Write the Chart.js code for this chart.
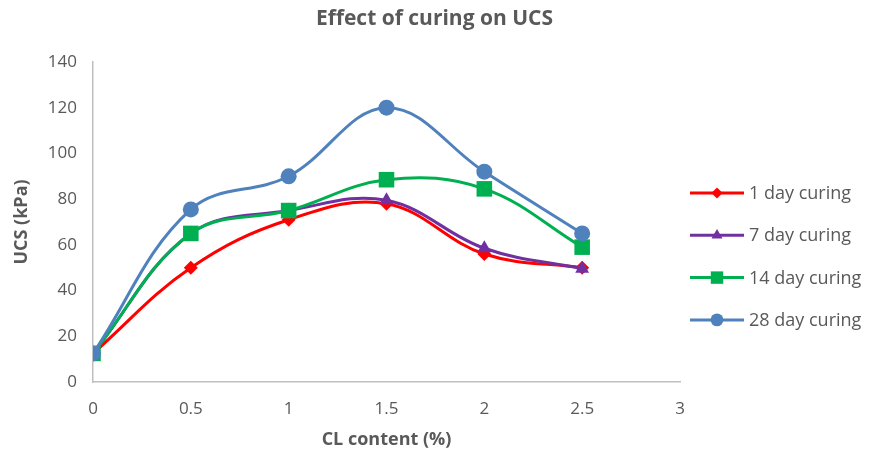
<!DOCTYPE html>
<html>
<head>
<meta charset="utf-8">
<script src="https://cdn.jsdelivr.net/npm/chart.js@4/dist/chart.umd.min.js"></script>
<style>
  html, body { margin: 0; padding: 0; background: #ffffff; }
  #wrap { width: 869px; height: 456px; }
</style>
</head>
<body>
<div id="wrap"><canvas id="chart" width="869" height="456"></canvas></div>
<script>
// CL content (%) on the x axis
const clContent = [0, 0.5, 1, 1.5, 2, 2.5];

// UCS (kPa) for each curing period
const day1Ucs  = [12.5, 50, 71, 78, 56, 50];
const day7Ucs  = [12.5, 65, 75, 79.5, 58.5, 49.5];
const day14Ucs = [12.5, 65, 75, 88.5, 84.5, 59];
const day28Ucs = [12.5, 75.5, 90, 120, 92, 65];

const seriesNames = ['1 day curing', '7 day curing', '14 day curing', '28 day curing'];
const xTicks = [0, 0.5, 1, 1.5, 2, 2.5, 3];
const yTicks = [0, 20, 40, 60, 80, 100, 120, 140];
const chartTitle = 'Effect of curing on UCS';

const textColor = '#595959';
const fontFamily = '"Open Sans", Lato, "Liberation Sans", sans-serif';

function toPoints(values) {
  return clContent.map((x, i) => ({ x: x, y: values[i] }));
}

const styles = [
  { color: '#FF0000', pointStyle: 'rectRot', radius: 7, order: 4 },
  { color: '#7030A0', pointStyle: 'triangle', radius: 8, order: 3 },
  { color: '#00B050', pointStyle: 'rect', radius: 11, order: 2 },
  { color: '#4F81BD', pointStyle: 'circle', radius: 8, order: 1 }
];
const seriesValues = [day1Ucs, day7Ucs, day14Ucs, day28Ucs];

const datasets = seriesValues.map((vals, i) => ({
  label: seriesNames[i],
  data: toPoints(vals),
  borderColor: styles[i].color,
  backgroundColor: styles[i].color,
  pointBackgroundColor: styles[i].color,
  pointBorderColor: styles[i].color,
  pointBorderWidth: 0,
  pointStyle: styles[i].pointStyle,
  pointRadius: styles[i].radius,
  borderWidth: 3,
  tension: 0.38,
  order: styles[i].order,
  fill: false
}));

// Title centred across the whole canvas, legend on the right
const decorations = {
  id: 'decorations',
  afterDraw(chart) {
    const ctx = chart.ctx;
    const area = chart.chartArea;
    ctx.save();
    ctx.fillStyle = textColor;
    ctx.font = 'bold 21px ' + fontFamily;
    ctx.textAlign = 'center';
    ctx.textBaseline = 'middle';
    ctx.fillText(chartTitle, chart.width / 2, 19);

    const x0 = area.right + 10;
    const lineLen = 54;
    const gap = 42.3;
    const y0 = area.top + 131;
    chart.data.datasets.forEach((ds, i) => {
      const y = y0 + i * gap;
      ctx.strokeStyle = ds.borderColor;
      ctx.lineWidth = 3;
      ctx.lineCap = 'butt';
      ctx.beginPath();
      ctx.moveTo(x0, y);
      ctx.lineTo(x0 + lineLen, y);
      ctx.stroke();
      ctx.fillStyle = ds.pointBackgroundColor;
      Chart.helpers.drawPoint(ctx, {
        pointStyle: ds.pointStyle,
        radius: ds.pointRadius * 0.8,
        borderWidth: 0
      }, x0 + lineLen / 2, y);
      ctx.fillStyle = textColor;
      ctx.font = '18px ' + fontFamily;
      ctx.textAlign = 'left';
      ctx.textBaseline = 'middle';
      ctx.fillText(ds.label, x0 + lineLen + 5, y + 1);
    });
    ctx.restore();
  }
};

new Chart(document.getElementById('chart'), {
  type: 'line',
  data: { datasets: datasets },
  options: {
    responsive: false,
    animation: false,
    layout: { padding: { left: 0, right: 189, top: 62, bottom: 0 } },
    plugins: {
      legend: { display: false },
      tooltip: { enabled: false },
      title: { display: false }
    },
    scales: {
      x: {
        type: 'linear',
        min: 0,
        max: 3,
        afterBuildTicks(axis) { axis.ticks = xTicks.map(v => ({ value: v })); },
        afterFit(axis) { axis.height = 74; },
        grid: { display: false, drawTicks: false },
        border: { display: true, color: '#BFBFBF', width: 1.5 },
        ticks: {
          color: textColor,
          font: { family: fontFamily, size: 17 },
          padding: 17,
          maxRotation: 0,
          callback: v => String(v)
        },
        title: {
          display: true,
          text: 'CL content (%)',
          color: textColor,
          font: { family: fontFamily, size: 18, weight: 'bold' },
          padding: { top: 0, bottom: 5 }
        }
      },
      y: {
        min: 0,
        max: 140,
        afterBuildTicks(axis) { axis.ticks = yTicks.map(v => ({ value: v })); },
        afterFit(axis) { axis.width = 93; },
        grid: { display: false, drawTicks: false },
        border: { display: true, color: '#BFBFBF', width: 1.5 },
        ticks: {
          color: textColor,
          font: { family: fontFamily, size: 17 },
          padding: 16
        },
        title: {
          display: true,
          text: 'UCS (kPa)',
          color: textColor,
          font: { family: fontFamily, size: 18, weight: 'bold' },
          padding: { top: 11, bottom: 0 }
        }
      }
    }
  },
  plugins: [decorations]
});
</script>
</body>
</html>
